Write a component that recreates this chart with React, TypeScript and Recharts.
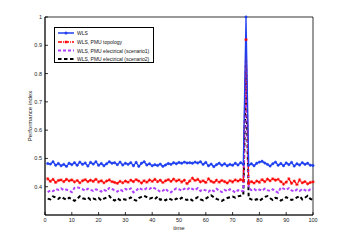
import React from "react";
import { LineChart, Line, XAxis, YAxis, ReferenceArea } from "recharts";

const times: number[] = Array.from({ length: 100 }, (_, i) => i + 1);

const wls: number[] = [
  0.482, 0.48, 0.488, 0.476, 0.482, 0.474, 0.479, 0.472, 0.483, 0.478,
  0.485, 0.476, 0.487, 0.479, 0.484, 0.473, 0.486, 0.48, 0.488, 0.476,
  0.482, 0.474, 0.481, 0.488, 0.483, 0.485, 0.478, 0.487, 0.477, 0.483,
  0.479, 0.485, 0.474, 0.486, 0.472, 0.483, 0.488, 0.477, 0.481, 0.474,
  0.478, 0.475, 0.48, 0.472, 0.477, 0.482, 0.479, 0.485, 0.481, 0.486,
  0.483, 0.487, 0.484, 0.485, 0.483, 0.487, 0.484, 0.488, 0.479, 0.486,
  0.474, 0.48, 0.471, 0.478, 0.483, 0.476, 0.481, 0.474, 0.479, 0.476,
  0.483, 0.477, 0.485, 0.479, 1.0, 0.476, 0.481, 0.474, 0.483, 0.487,
  0.49, 0.484, 0.479, 0.473, 0.481, 0.487, 0.476, 0.482, 0.474, 0.484,
  0.478, 0.486, 0.473, 0.481, 0.477, 0.485, 0.479, 0.483, 0.476, 0.475,
];

const pmuTopology: number[] = [
  0.428, 0.419, 0.426, 0.415, 0.422, 0.424, 0.418, 0.426, 0.421, 0.424,
  0.417, 0.422, 0.414, 0.421, 0.425, 0.418, 0.423, 0.419, 0.426, 0.417,
  0.421, 0.414, 0.42, 0.424, 0.418, 0.415, 0.412, 0.419, 0.414, 0.42,
  0.416, 0.423, 0.418, 0.425, 0.42, 0.413, 0.421, 0.416, 0.424, 0.419,
  0.426, 0.418, 0.423, 0.415, 0.421, 0.425, 0.419, 0.427, 0.42, 0.424,
  0.417, 0.423, 0.411, 0.42, 0.43, 0.422, 0.426, 0.417, 0.421, 0.415,
  0.428, 0.419, 0.415, 0.423, 0.416, 0.422, 0.418, 0.413, 0.421, 0.417,
  0.424, 0.42, 0.425, 0.421, 0.92, 0.411, 0.418, 0.413, 0.42, 0.416,
  0.425, 0.418, 0.427, 0.421, 0.428, 0.423, 0.426, 0.418, 0.409, 0.416,
  0.428, 0.412, 0.42, 0.408, 0.424, 0.414, 0.418, 0.41, 0.415, 0.417,
];

const pmuScenario1: number[] = [
  0.381, 0.387, 0.384, 0.392, 0.389, 0.394, 0.388, 0.39, 0.386, 0.381,
  0.396, 0.398, 0.395, 0.391, 0.386, 0.393, 0.389, 0.385, 0.391, 0.387,
  0.383, 0.389, 0.384, 0.396, 0.392, 0.387, 0.383, 0.39, 0.385, 0.392,
  0.388, 0.394, 0.38, 0.386, 0.396, 0.391, 0.389, 0.395, 0.392, 0.398,
  0.394, 0.389, 0.382, 0.386, 0.393, 0.383, 0.38, 0.388, 0.394, 0.391,
  0.386, 0.393, 0.389, 0.397, 0.392, 0.388, 0.395, 0.385, 0.39, 0.387,
  0.382, 0.39, 0.384, 0.393, 0.386, 0.381, 0.389, 0.384, 0.391, 0.386,
  0.38, 0.388, 0.383, 0.386, 0.87, 0.395, 0.388, 0.392, 0.386, 0.39,
  0.386, 0.393, 0.388, 0.385, 0.391, 0.384, 0.379, 0.397, 0.393, 0.389,
  0.395, 0.387, 0.383, 0.39, 0.385, 0.392, 0.388, 0.384, 0.391, 0.394,
];

const pmuScenario2: number[] = [
  0.358, 0.355, 0.366, 0.362, 0.357, 0.364, 0.359, 0.354, 0.361, 0.356,
  0.35, 0.357, 0.366, 0.359, 0.357, 0.362, 0.354, 0.358, 0.355, 0.36,
  0.352, 0.358, 0.362, 0.367, 0.356, 0.351, 0.359, 0.353, 0.357, 0.354,
  0.356, 0.362, 0.355, 0.351, 0.36, 0.364, 0.368, 0.363, 0.358, 0.361,
  0.356, 0.365, 0.354, 0.357, 0.352, 0.359, 0.355, 0.351, 0.358, 0.354,
  0.361, 0.356, 0.353, 0.358, 0.351, 0.357, 0.363, 0.355, 0.352, 0.358,
  0.364, 0.369, 0.363, 0.357, 0.353, 0.35, 0.356, 0.36, 0.363, 0.365,
  0.361, 0.366, 0.368, 0.372, 0.8, 0.36, 0.355, 0.352, 0.356, 0.35,
  0.357, 0.364, 0.367, 0.359, 0.353, 0.361, 0.358, 0.351, 0.356, 0.363,
  0.358, 0.353, 0.356, 0.362, 0.367, 0.355, 0.361, 0.368, 0.357, 0.354,
];

const xTicks = [0, 10, 20, 30, 40, 50, 60, 70, 80, 90, 100];
const yTicks = [0.4, 0.5, 0.6, 0.7, 0.8, 0.9, 1];

const seriesNames = [
  "WLS",
  "WLS, PMU topology",
  "WLS, PMU electrical (scenario1)",
  "WLS, PMU electrical (scenario2)",
];

const data = times.map((t, i) => ({
  t,
  wls: wls[i],
  topo: pmuTopology[i],
  sc1: pmuScenario1[i],
  sc2: pmuScenario2[i],
}));

const font = "'Liberation Sans', Arial, sans-serif";
const tickStyle = { fontSize: 5.5, fill: "#222", fontFamily: font };

const Star = (props: any) => {
  const { cx, cy } = props;
  if (cx == null || cy == null) return null;
  const r = 1.6;
  return (
    <g stroke="#ff0000" strokeWidth={0.8}>
      <line x1={cx - r} y1={cy} x2={cx + r} y2={cy} />
      <line x1={cx} y1={cy - r} x2={cx} y2={cy + r} />
      <line x1={cx - r * 0.7} y1={cy - r * 0.7} x2={cx + r * 0.7} y2={cy + r * 0.7} />
      <line x1={cx - r * 0.7} y1={cy + r * 0.7} x2={cx + r * 0.7} y2={cy - r * 0.7} />
    </g>
  );
};

const LegendBox = () => (
  <div
    style={{
      position: "absolute",
      left: 54,
      top: 27,
      width: 100,
      height: 36,
      border: "0.8px solid #000",
      background: "#fff",
      fontFamily: font,
      fontSize: 5,
      color: "#111",
      boxSizing: "border-box",
    }}
  >
    <svg width={100} height={36} style={{ position: "absolute", left: 0, top: 0 }}>
      <line x1={3} x2={19} y1={5} y2={5} stroke="#1f3ff0" strokeWidth={1.5} />
      <circle cx={11} cy={5} r={1.5} fill="#1f3ff0" />
      <line x1={3} x2={19} y1={14} y2={14} stroke="#ff0000" strokeWidth={1.3} strokeDasharray="4 1 1 1" />
      <Star cx={11} cy={14} />
      <line x1={3} x2={19} y1={22.5} y2={22.5} stroke="#b040ff" strokeWidth={2} strokeDasharray="3 2" />
      <line x1={3} x2={19} y1={31} y2={31} stroke="#000" strokeWidth={2} strokeDasharray="3.5 2.5" />
    </svg>
    {seriesNames.map((name, i) => (
      <div
        key={name}
        style={{ position: "absolute", left: 22, top: [2, 11, 19.5, 28][i], lineHeight: "6px", whiteSpace: "nowrap" }}
      >
        {name}
      </div>
    ))}
  </div>
);

export default function App() {
  return (
    <div style={{ position: "absolute", left: 0, top: 0, width: 346, height: 242, background: "#fff" }}>
      <LineChart width={346} height={242} data={data} margin={{ top: 17, right: 33, bottom: 7, left: 0 }}>
        <ReferenceArea
          x1={0}
          x2={100}
          y1={0.3}
          y2={1}
          fill="none"
          fillOpacity={0}
          stroke="#000"
          strokeWidth={0.8}
          strokeOpacity={1}
          ifOverflow="visible"
        />
        <XAxis
          dataKey="t"
          type="number"
          domain={[0, 100]}
          ticks={xTicks}
          tick={tickStyle}
          tickSize={-3}
          tickMargin={6}
          height={20}
          stroke="#000"
          strokeWidth={0.8}
          label={{ value: "time", position: "insideBottom", offset: 5, style: { fontSize: 6, fill: "#222", fontFamily: font } }}
        />
        <YAxis
          type="number"
          domain={[0.3, 1]}
          ticks={yTicks}
          tick={tickStyle}
          tickSize={-3}
          tickMargin={6}
          width={45}
          stroke="#000"
          strokeWidth={0.8}
          label={{
            value: "Performance index",
            angle: -90,
            position: "insideLeft",
            offset: 30,
            style: { fontSize: 6, fill: "#222", fontFamily: font, textAnchor: "middle" },
          }}
        />
        <Line
          dataKey="sc2"
          stroke="#000"
          strokeWidth={2}
          strokeDasharray="3.5 2.5"
          dot={false}
          isAnimationActive={false}
        />
        <Line
          dataKey="sc1"
          stroke="#b040ff"
          strokeWidth={2}
          strokeDasharray="3 2"
          dot={false}
          isAnimationActive={false}
        />
        <Line
          dataKey="topo"
          stroke="#ff0000"
          strokeWidth={1.2}
          strokeDasharray="4 1 1 1"
          dot={<Star />}
          isAnimationActive={false}
        />
        <Line
          dataKey="wls"
          stroke="#1f3ff0"
          strokeWidth={1.3}
          dot={{ r: 1.2, fill: "#1f3ff0", stroke: "#1f3ff0", strokeWidth: 0.5 }}
          isAnimationActive={false}
        />
      </LineChart>
      <LegendBox />
    </div>
  );
}
